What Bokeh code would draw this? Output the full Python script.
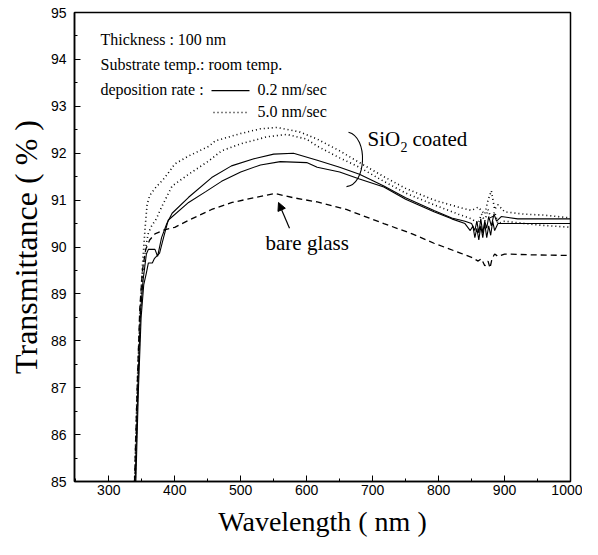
from bokeh.plotting import figure
from bokeh.models import FixedTicker, Range1d, Arrow, NormalHead
from bokeh.core.properties import value
from bokeh.embed import file_html
from bokeh.resources import INLINE

# ---- data ----
wl_dot1 = [339, 343, 347, 351, 355, 358, 362, 370, 385, 400, 421, 452, 461, 500, 530, 555, 590, 616, 650, 680, 717, 750, 793, 830, 850, 860, 870, 875, 880, 885, 890, 900, 930, 960, 1000]
t_dot1 = [85.0, 87.0, 88.5, 89.6, 90.4, 90.9, 91.1, 91.25, 91.48, 91.77, 91.94, 92.15, 92.26, 92.42, 92.52, 92.55, 92.45, 92.3, 92.05, 91.8, 91.5, 91.25, 91.0, 90.85, 90.78, 90.85, 90.7, 91.0, 91.2, 90.8, 90.9, 90.75, 90.7, 90.68, 90.62]

wl_dot2 = [340, 344, 348, 352, 356, 360, 365, 372, 380, 396, 421, 452, 471, 500, 540, 570, 600, 616, 650, 680, 717, 750, 793, 830, 850, 860, 865, 870, 875, 880, 885, 890, 900, 950, 1000]
t_dot2 = [85.0, 87.0, 88.6, 89.5, 90.0, 90.3, 90.45, 90.6, 90.85, 91.3, 91.55, 91.84, 92.05, 92.2, 92.35, 92.4, 92.3, 92.15, 91.9, 91.7, 91.4, 91.15, 90.9, 90.7, 90.6, 90.5, 90.7, 90.55, 90.8, 90.6, 90.75, 90.5, 90.55, 90.47, 90.42]

wl_sol1 = [340, 344, 348, 352, 357, 360, 365, 370, 374, 380, 388, 396, 421, 456, 486, 520, 550, 580, 616, 650, 680, 717, 750, 793, 820, 840, 850, 855, 858, 861, 864, 867, 870, 873, 876, 880, 884, 888, 895, 920, 960, 1000]
t_sol1 = [85.0, 87.0, 88.6, 89.3, 89.85, 89.95, 89.95, 89.95, 89.8, 90.2, 90.5, 90.72, 91.06, 91.48, 91.73, 91.88, 91.98, 92.0, 91.85, 91.7, 91.55, 91.3, 91.05, 90.78, 90.62, 90.55, 90.5, 90.35, 90.55, 90.3, 90.6, 90.3, 90.55, 90.4, 90.65, 90.45, 90.7, 90.55, 90.65, 90.6, 90.6, 90.6]

wl_sol2 = [341, 345, 349, 353, 357, 360, 366, 369, 377, 383, 390, 421, 447, 471, 500, 530, 560, 600, 616, 650, 680, 717, 750, 793, 820, 840, 848, 852, 855, 858, 861, 864, 867, 870, 873, 876, 879, 882, 885, 890, 900, 950, 1000]
t_sol2 = [85.0, 87.0, 88.5, 89.2, 89.45, 89.66, 89.66, 89.75, 89.87, 90.2, 90.57, 90.95, 91.18, 91.4, 91.6, 91.75, 91.82, 91.8, 91.7, 91.6, 91.45, 91.28, 91.02, 90.75, 90.6, 90.5, 90.35, 90.45, 90.2, 90.4, 90.15, 90.45, 90.2, 90.5, 90.2, 90.45, 90.25, 90.55, 90.35, 90.5, 90.5, 90.5, 90.5]

wl_bare = [339, 343, 347, 351, 356, 362, 370, 383, 400, 421, 456, 487, 520, 552, 580, 616, 660, 717, 760, 793, 833, 850, 860, 865, 870, 875, 878, 881, 885, 890, 900, 950, 1000]
t_bare = [85.0, 87.0, 88.7, 89.5, 89.95, 90.15, 90.28, 90.36, 90.42, 90.57, 90.8, 90.95, 91.05, 91.14, 91.05, 90.96, 90.8, 90.5, 90.28, 90.08, 89.87, 89.78, 89.7, 89.75, 89.6, 89.7, 89.55, 89.75, 89.85, 89.8, 89.85, 89.83, 89.82]

x_ticks = [300, 400, 500, 600, 700, 800, 900, 1000]
y_ticks = [85, 86, 87, 88, 89, 90, 91, 92, 93, 94, 95]

X0, X1 = 248, 1000
Y0, Y1 = 85, 95

p = figure(width=582, height=539, output_backend="svg", toolbar_location=None,
           x_range=Range1d(X0, X1), y_range=Range1d(Y0, Y1),
           min_border_left=74, min_border_right=12, min_border_top=12, min_border_bottom=53)
p.background_fill_color = "white"
p.border_fill_color = "white"
p.grid.visible = False
p.outline_line_color = "black"
p.outline_line_width = 1.5

# page px -> data helpers for annotation placement
def fx(px):
    return X0 + (px - 82) * (X1 - X0) / 496.0

def fy(py):
    return Y1 - (py - 20) * (Y1 - Y0) / 474.0

for ax in (p.xaxis[0], p.yaxis[0]):
    ax.axis_line_color = "black"
    ax.axis_line_width = 1.5
    ax.major_tick_in = 6
    ax.major_tick_out = 0
    ax.minor_tick_in = 3
    ax.minor_tick_out = 0
    ax.major_tick_line_color = "black"
    ax.minor_tick_line_color = "black"
    ax.major_label_text_font = "Liberation Sans"
    ax.major_label_text_font_size = "14px"
    ax.major_label_text_color = "black"
    ax.axis_label_text_font = "Liberation Serif"
    ax.axis_label_text_font_style = "normal"
    ax.axis_label_text_color = "black"

p.xaxis.axis_label_text_font_size = "28px"
p.yaxis.axis_label_text_font_size = "32px"
p.xaxis.ticker = FixedTicker(ticks=x_ticks, minor_ticks=[250, 350, 450, 550, 650, 750, 850, 950])
p.yaxis.ticker = FixedTicker(ticks=y_ticks, minor_ticks=[85.5, 86.5, 87.5, 88.5, 89.5, 90.5, 91.5, 92.5, 93.5, 94.5])
p.xaxis.axis_label = "Wavelength ( nm )"
p.yaxis.axis_label = "Transmittance ( % )"
p.xaxis.major_label_standoff = 3
p.yaxis.major_label_standoff = 8
p.xaxis.axis_label_standoff = 8
p.yaxis.axis_label_standoff = 4

# curves
p.line(wl_dot1, t_dot1, line_color="black", line_width=1.6, line_dash="1 3")
p.line(wl_dot2, t_dot2, line_color="black", line_width=1.6, line_dash="1 3")
p.line(wl_sol1, t_sol1, line_color="black", line_width=1.1)
p.line(wl_sol2, t_sol2, line_color="black", line_width=1.1)
p.line(wl_bare, t_bare, line_color="black", line_width=1.3, line_dash="6 4")

serif = value("Liberation Serif")
FS = "16px"
# info block
p.text(x=[fx(108)], y=[fy(47)], text=["Thickness : 100 nm"], text_font=serif,
       text_font_size=FS, text_baseline="middle", text_color="black")
p.text(x=[fx(108)], y=[fy(73)], text=["Substrate temp.: room temp."], text_font=serif,
       text_font_size=FS, text_baseline="middle", text_color="black")
p.text(x=[fx(108)], y=[fy(98)], text=["deposition rate :"], text_font=serif,
       text_font_size=FS, text_baseline="middle", text_color="black")
p.segment(x0=[fx(219)], y0=[fy(99)], x1=[fx(257)], y1=[fy(99)], line_color="black", line_width=1.1)
p.text(x=[fx(265)], y=[fy(98)], text=["0.2 nm/sec"], text_font=serif,
       text_font_size=FS, text_baseline="middle", text_color="black")
p.segment(x0=[fx(221)], y0=[fy(121)], x1=[fx(254)], y1=[fy(121)], line_color="black", line_width=1.5, line_dash="1 3")
p.text(x=[fx(265)], y=[fy(120)], text=["5.0 nm/sec"], text_font=serif,
       text_font_size=FS, text_baseline="middle", text_color="black")

# SiO2 coated
p.text(x=[fx(375)], y=[fy(148)], text=["SiO"], text_font=serif,
       text_font_size="21px", text_baseline="middle", text_color="black")
p.text(x=[fx(408)], y=[fy(156)], text=["2"], text_font=serif,
       text_font_size="14px", text_baseline="middle", text_color="black")
p.text(x=[fx(420)], y=[fy(148)], text=["coated"], text_font=serif,
       text_font_size="21px", text_baseline="middle", text_color="black")
p.bezier(x0=[fx(356)], y0=[fy(141)], x1=[fx(354)], y1=[fy(196)],
         cx0=[fx(376)], cy0=[fy(146)], cx1=[fx(374)], cy1=[fy(194)],
         line_color="black", line_width=1.1)

# bare glass
p.text(x=[fx(273)], y=[fy(253)], text=["bare glass"], text_font=serif,
       text_font_size="21px", text_baseline="middle", text_color="black")
p.add_layout(Arrow(end=NormalHead(size=8, fill_color="black", line_color="black"),
                   x_start=fx(297), y_start=fy(238), x_end=fx(286), y_end=fy(212),
                   line_color="black", line_width=1.2))

open("out.html", "w").write(file_html(p, INLINE))
